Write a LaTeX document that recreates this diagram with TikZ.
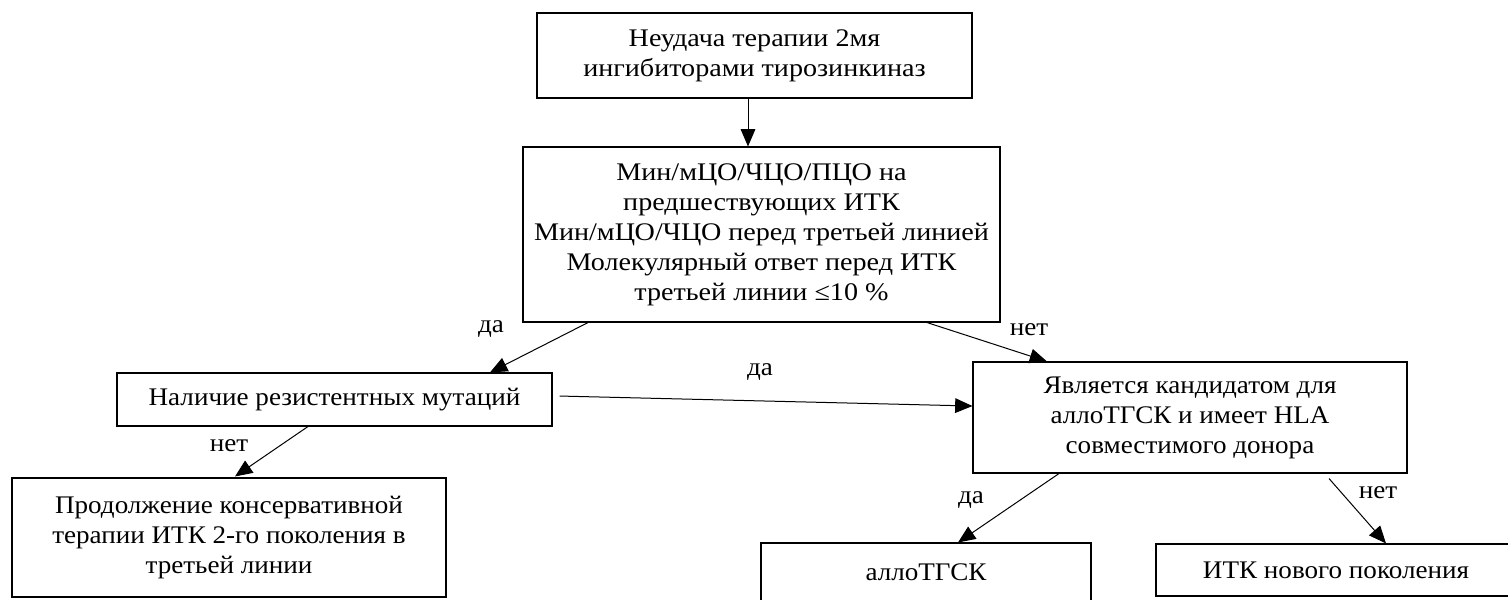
\documentclass[tikz,border=0pt]{standalone}
\usepackage{fontspec}
\setmainfont{Liberation Serif}
\newfontfamily\widefont[FakeStretch=1.11]{Liberation Serif}
\newfontfamily\midfont[FakeStretch=1.07]{Liberation Serif}
\usetikzlibrary{arrows.meta}
\tikzset{
  box/.style={draw, line width=0.8pt, align=center, inner sep=0pt, font=\midfont\fontsize{19}{22.5}\selectfont},
  widebox/.style={box, font=\widefont\fontsize{19}{22.5}\selectfont},
  lbl/.style={inner sep=0pt, font=\midfont\fontsize{19}{22.5}\selectfont},
  conn/.style={line width=0.75pt, -{Triangle[length=13pt,width=11pt]}}
}
\begin{document}
\begin{tikzpicture}[x=0.75pt,y=-0.75pt]
\useasboundingbox (0,0) rectangle (1508,599);
\clip (0,0) rectangle (1508,599);
\node[widebox, minimum width=326.25pt, minimum height=63.75pt] (top) at (754.5,55.5)
  {Неудача терапии 2мя\\ингибиторами тирозинкиназ};
\node[widebox, minimum width=357.75pt, minimum height=131.25pt] (mid) at (761.5,234.5)
  {Мин/мЦО/ЧЦО/ПЦО на\\предшествующих ИТК\\Мин/мЦО/ЧЦО перед третьей линией\\Молекулярный ответ перед ИТК\\третьей линии ≤10~\%};
\node[box, minimum width=326.25pt, minimum height=39.75pt] (left) at (334.5,399.5)
  {Наличие резистентных мутаций};
\node[box, minimum width=325.5pt, minimum height=89.25pt] (botleft) at (229,537.5)
  {Продолжение консервативной\\терапии ИТК 2-го поколения в\\третьей линии};
\node[box, minimum width=325.5pt, minimum height=83.25pt] (right) at (1190,417.5)
  {Является кандидатом для\\аллоТГСК и имеет HLA\\совместимого донора};
\node[box, minimum width=247.5pt, minimum height=43.5pt] (allo) at (926,572)
  {аллоТГСК};
\node[box, minimum width=270pt, minimum height=39pt] (itk) at (1336,570)
  {ИТК нового поколения};

\draw[conn] ([xshift=-4.875pt]top.south) -- ([xshift=-10.125pt]mid.north);
\draw[conn] ([xshift=-130.1pt]mid.south) -- ([xshift=116.6pt]left.north);
\draw[conn] ([xshift=124.1pt]mid.south) -- ([xshift=-107.25pt]right.north);
\draw[conn] ([xshift=5.25pt,yshift=2.6pt]left.east) -- ([yshift=8.6pt]right.west);
\draw[conn] ([xshift=-98.25pt]right.south) -- ([xshift=24pt]allo.north);
\draw[conn] ([xshift=104.25pt,yshift=-3.75pt]right.south) -- ([xshift=37.5pt]itk.north);
\draw[conn] ([xshift=-19.9pt]left.south) -- ([xshift=4.5pt,yshift=0.75pt]botleft.north);

\node[lbl] (l1) at (491,329) {да};
\node[lbl] (l2) at (1029,330) {нет};
\node[lbl] (l3) at (760,372) {да};
\node[lbl] (l4) at (971,500) {да};
\node[lbl] (l5) at (1378,493) {нет};
\node[lbl] (l6) at (229,446) {нет};
\end{tikzpicture}
\end{document}
